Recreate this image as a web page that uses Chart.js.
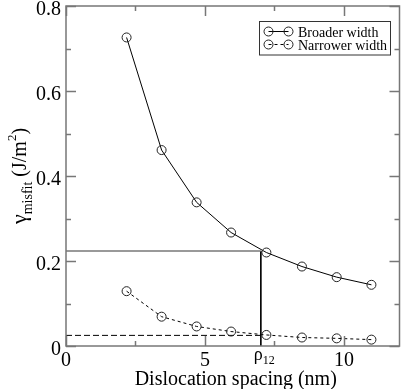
<!DOCTYPE html>
<html>
<head>
<meta charset="utf-8">
<script src="https://cdn.jsdelivr.net/npm/chart.js@4"></script>
<style>
  html, body { margin: 0; padding: 0; background: #fff; }
  #wrap { width: 405px; height: 389px; position: relative; }
</style>
</head>
<body>
<div id="wrap"><canvas id="chart"></canvas></div>
<script>
// Dislocation spacing (nm) for each computed point
const spacing = [2.18, 3.44, 4.70, 5.94, 7.21, 8.49, 9.74, 10.99];
// misfit energy (J/m^2)
const broader = [0.726, 0.461, 0.338, 0.267, 0.220, 0.187, 0.162, 0.144];
const narrower = [0.129, 0.069, 0.046, 0.034, 0.026, 0.020, 0.018, 0.015];

// crossing marker (rho_12) and its two energy levels
const rho12 = 7.01;
const gammaBroad = 0.2235;
const gammaNarrow = 0.025;

// axes
const xMajor = [0, 5, 10];
const xMinor = [2.5, 7.5];
const xLabels = ['0', '5', '10'];
const yMajor = [0, 0.2, 0.4, 0.6, 0.8];
const yMinor = [0.1, 0.3, 0.5, 0.7];
const yLabels = ['0', '0.2', '0.4', '0.6', '0.8'];

const seriesNames = ['Broader width', 'Narrower width'];

const SERIF = '"Liberation Serif", "DejaVu Serif", serif';

function toPoints(xs, ys) {
    return xs.map((x, i) => ({ x: x, y: ys[i] }));
}

// frame, inward ticks, tick labels, titles, legend
const decorPlugin = {
    id: 'decor',
    afterDraw(chart) {
        const ctx = chart.ctx;
        const { left, right, top, bottom } = chart.chartArea;
        const xs = chart.scales.x;
        const ys = chart.scales.y;
        ctx.save();

        // frame
        ctx.strokeStyle = '#777';
        ctx.lineWidth = 1.5;
        ctx.strokeRect(left, top, right - left, bottom - top);

        // ticks on all four sides, pointing in
        ctx.beginPath();
        const tick = (vals, len, isX) => {
            vals.forEach(v => {
                if (isX) {
                    const px = Math.round(xs.getPixelForValue(v)) + 0.5;
                    ctx.moveTo(px, bottom); ctx.lineTo(px, bottom - len);
                    ctx.moveTo(px, top); ctx.lineTo(px, top + len);
                } else {
                    const py = Math.round(ys.getPixelForValue(v)) + 0.5;
                    ctx.moveTo(left, py); ctx.lineTo(left + len, py);
                    ctx.moveTo(right, py); ctx.lineTo(right - len, py);
                }
            });
        };
        tick(xMajor, 10, true);
        tick(xMinor, 5, true);
        tick(yMajor, 10, false);
        tick(yMinor, 5, false);
        ctx.lineWidth = 1.5;
        ctx.stroke();

        // tick labels
        ctx.fillStyle = '#000';
        ctx.font = '20px ' + SERIF;
        ctx.textAlign = 'right';
        yMajor.forEach((v, i) => {
            ctx.fillText(yLabels[i], left - 5, ys.getPixelForValue(v) + 8.5);
        });
        ctx.textAlign = 'center';
        xMajor.forEach((v, i) => {
            ctx.fillText(xLabels[i], xs.getPixelForValue(v), bottom + 20);
        });

        // rho_12 label under the vertical marker
        const rx = xs.getPixelForValue(rho12);
        ctx.textAlign = 'left';
        ctx.font = '18px ' + SERIF;
        const rw = ctx.measureText('\u03c1').width;
        ctx.fillText('\u03c1', rx - 7, bottom + 14);
        ctx.font = '12px ' + SERIF;
        ctx.fillText('12', rx - 7 + rw, bottom + 18);

        // x title
        ctx.font = '20px ' + SERIF;
        ctx.textAlign = 'center';
        ctx.fillText('Dislocation spacing (nm)', (left + right) / 2 + 3, bottom + 39);

        // y title, rotated, with sub/superscript
        const parts = [
            { t: '\u03b3', f: 22, dy: 0 },
            { t: 'misfit', f: 14, dy: 6 },
            { t: ' (J/m', f: 20, dy: 0 },
            { t: '2', f: 13, dy: -10 },
            { t: ')', f: 20, dy: 0 }
        ];
        let total = 0;
        parts.forEach(p => {
            ctx.font = p.f + 'px ' + SERIF;
            p.w = ctx.measureText(p.t).width;
            total += p.w;
        });
        ctx.translate(26, (top + bottom) / 2);
        ctx.rotate(-Math.PI / 2);
        ctx.textAlign = 'left';
        let cx = -total / 2;
        parts.forEach(p => {
            ctx.font = p.f + 'px ' + SERIF;
            ctx.fillText(p.t, cx, p.dy);
            cx += p.w;
        });
        ctx.setTransform(1, 0, 0, 1, 0, 0);

        // legend
        const bx = 259.5, by = 21.5, bw = 131, bh = 33.5;
        ctx.strokeStyle = '#333';
        ctx.lineWidth = 1;
        ctx.strokeRect(bx, by, bw, bh);
        const rows = [31.5, 44.5];
        rows.forEach((ry, i) => {
            const ds = chart.data.datasets[i];
            ctx.strokeStyle = '#000';
            ctx.lineWidth = 1;
            ctx.setLineDash(ds.borderDash || []);
            ctx.beginPath();
            ctx.moveTo(268.5, ry); ctx.lineTo(288.5, ry);
            ctx.stroke();
            ctx.setLineDash([]);
            ctx.strokeStyle = '#222';
            [268.5, 288.5].forEach(cxp => {
                ctx.beginPath();
                ctx.arc(cxp, ry, 4.5, 0, Math.PI * 2);
                ctx.stroke();
            });
            ctx.fillStyle = '#000';
            ctx.font = '14px ' + SERIF;
            ctx.textAlign = 'left';
            ctx.fillText(seriesNames[i], 298, ry + 5);
        });

        ctx.restore();
    }
};

new Chart(document.getElementById('chart'), {
    type: 'line',
    data: {
        datasets: [
            {
                label: seriesNames[0],
                data: toPoints(spacing, broader),
                borderColor: '#000',
                borderWidth: 1,
                pointRadius: 4.5,
                pointBorderWidth: 1,
                pointBorderColor: '#222',
                pointBackgroundColor: 'transparent',
                tension: 0
            },
            {
                label: seriesNames[1],
                data: toPoints(spacing, narrower),
                borderColor: '#000',
                borderWidth: 1,
                borderDash: [3, 3],
                pointRadius: 4.5,
                pointBorderWidth: 1,
                pointBorderColor: '#222',
                pointBackgroundColor: 'transparent',
                tension: 0
            },
            {
                // level of broader width at rho_12
                data: [{ x: 0, y: gammaBroad }, { x: rho12, y: gammaBroad }],
                borderColor: '#777',
                borderWidth: 1.5,
                pointRadius: 0
            },
            {
                data: [{ x: rho12, y: gammaBroad }, { x: rho12, y: 0 }],
                borderColor: '#000',
                borderWidth: 1,
                pointRadius: 0
            },
            {
                // level of narrower width at rho_12
                data: [{ x: 0, y: gammaNarrow }, { x: rho12, y: gammaNarrow }],
                borderColor: '#000',
                borderWidth: 1,
                borderDash: [6, 3],
                pointRadius: 0
            }
        ]
    },
    options: {
        responsive: true,
        maintainAspectRatio: false,
        animation: false,
        layout: { padding: { left: 66, right: 2, top: 6, bottom: 43 } },
        scales: {
            x: { type: 'linear', min: 0, max: 12, display: false },
            y: { type: 'linear', min: 0, max: 0.8, display: false }
        },
        plugins: {
            legend: { display: false },
            tooltip: { enabled: false }
        }
    },
    plugins: [decorPlugin]
});
</script>
</body>
</html>
